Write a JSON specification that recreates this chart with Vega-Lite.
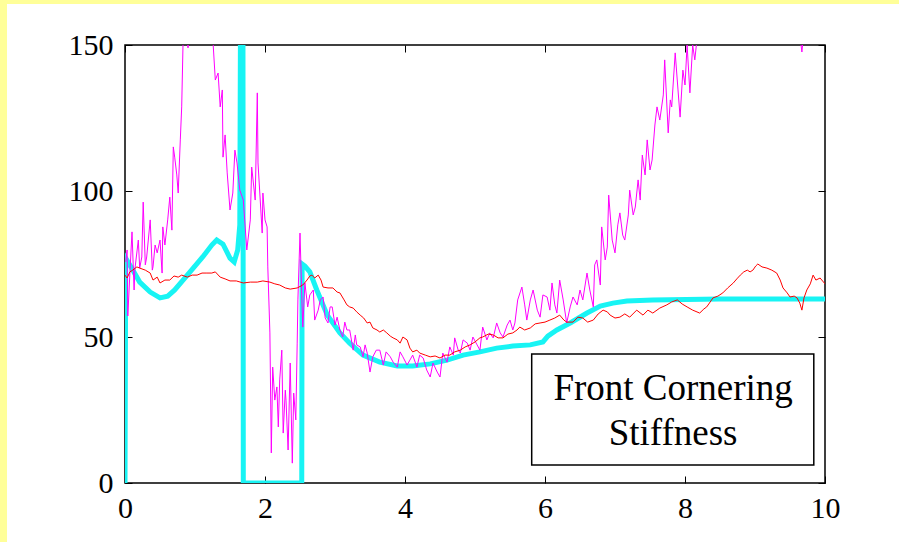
{
  "$schema": "https://vega.github.io/schema/vega-lite/v6.json",
  "padding": 0,
  "background": "white",
  "config": {"view": {"stroke": null}, "font": "Liberation Serif"},
  "spacing": 0,
  "bounds": "flush",
  "hconcat": [
    {"width": 7, "height": 542, "view": {"fill": "#FFFF99", "stroke": null}, "data": {"values": []}, "mark": "rect", "encoding": {}},
    {
      "spacing": 41,
      "bounds": "flush",
      "vconcat": [
        {"width": 892, "height": 4, "view": {"fill": "#FFFF99", "stroke": null}, "data": {"values": []}, "mark": "rect", "encoding": {}},
        {
          "spacing": 117,
          "bounds": "flush",
          "hconcat": [
            {"width": 1, "height": 1, "view": {"stroke": null}, "data": {"values": []}, "mark": "rect", "encoding": {}},
            {
              "width": 700,
              "height": 438,
              "view": {"stroke": "black", "strokeWidth": 1.5},
              "resolve": {"axis": {"x": "independent", "y": "independent"}},
              "layer": [
                {
                  "data": {"values": [
                    {"t":0,"v":0},{"t":0.01,"v":77},{"t":0.11,"v":73},{"t":0.21,"v":68.8},{"t":0.36,"v":65.4},{"t":0.5,"v":63.4},{"t":0.61,"v":64},{"t":0.71,"v":66.1},{"t":0.89,"v":71.2},{"t":1.11,"v":77.4},{"t":1.24,"v":81.5},{"t":1.31,"v":83.2},{"t":1.4,"v":81.8},{"t":1.5,"v":77},{"t":1.56,"v":75.7},{"t":1.61,"v":79.8},{"t":1.64,"v":88.4},{"t":1.65,"v":160},{"t":1.685,"v":160},{"t":1.69,"v":0},{"t":2.525,"v":0},{"t":2.53,"v":75},{"t":2.57,"v":74.3},{"t":2.64,"v":72.3},{"t":2.74,"v":66.1},{"t":2.89,"v":57.5},{"t":3.07,"v":51.4},{"t":3.21,"v":47.9},{"t":3.4,"v":43.8},{"t":3.64,"v":41.4},{"t":3.89,"v":40.1},{"t":4.11,"v":40.1},{"t":4.36,"v":40.8},{"t":4.6,"v":42.1},{"t":4.83,"v":43.8},{"t":5.07,"v":44.9},{"t":5.31,"v":46.2},{"t":5.54,"v":46.9},{"t":5.79,"v":47.3},{"t":5.97,"v":48.3},{"t":6.04,"v":50.3},{"t":6.17,"v":52.4},{"t":6.36,"v":54.8},{"t":6.6,"v":58.2},{"t":6.79,"v":60.6},{"t":6.97,"v":61.6},{"t":7.17,"v":62.3},{"t":7.54,"v":62.7},{"t":8.5,"v":63},{"t":10,"v":63}
                  ]},
                  "mark": {"type": "line", "color": "#18F4F4", "strokeWidth": 5, "clip": true},
                  "encoding": {
                    "x": {"field": "t", "type": "quantitative", "scale": {"domain": [0, 10], "nice": false, "zero": false},
                      "axis": {"orient": "bottom", "values": [0, 2, 4, 6, 8, 10], "domain": false, "grid": false, "tickSize": -7, "tickColor": "black", "labelFont": "Liberation Serif", "labelFontSize": 30, "labelColor": "black", "labelPadding": 17, "labelFlush": false, "title": null, "format": "d"}},
                    "y": {"field": "v", "type": "quantitative", "scale": {"domain": [0, 150], "nice": false},
                      "axis": {"orient": "left", "values": [0, 50, 100, 150], "domain": false, "grid": false, "tickSize": -7, "tickColor": "black", "labelFont": "Liberation Serif", "labelFontSize": 30, "labelColor": "black", "labelPadding": 19, "title": null, "format": "d"}}
                  }
                },
                {
                  "data": {"values": [
                    {"t":0.01,"v":75.7},{"t":0.03,"v":79.8},{"t":0.04,"v":57.2},{"t":0.07,"v":71.9},{"t":0.1,"v":86},{"t":0.13,"v":66.1},{"t":0.14,"v":72.9},{"t":0.19,"v":83.2},{"t":0.21,"v":73.6},{"t":0.24,"v":77.4},{"t":0.26,"v":96.2},{"t":0.29,"v":74.7},{"t":0.31,"v":77.4},{"t":0.36,"v":90.1},{"t":0.39,"v":72.9},{"t":0.4,"v":74},{"t":0.43,"v":81.5},{"t":0.46,"v":78.8},{"t":0.5,"v":83.2},{"t":0.53,"v":71.9},{"t":0.54,"v":87.7},{"t":0.57,"v":81.5},{"t":0.61,"v":90.1},{"t":0.64,"v":97.9},{"t":0.67,"v":86.6},{"t":0.69,"v":115.1},{"t":0.71,"v":111.6},{"t":0.74,"v":105.5},{"t":0.76,"v":99.3},{"t":0.79,"v":117.5},{"t":0.81,"v":128.8},{"t":0.83,"v":151.7},{"t":0.87,"v":155},{"t":0.9,"v":149},{"t":0.93,"v":155},{"t":1,"v":158},{"t":1.07,"v":162},{"t":1.14,"v":157},{"t":1.21,"v":158},{"t":1.26,"v":150},{"t":1.29,"v":138},{"t":1.33,"v":140.4},{"t":1.36,"v":128.8},{"t":1.39,"v":134.6},{"t":1.4,"v":111.6},{"t":1.43,"v":119.2},{"t":1.46,"v":106.2},{"t":1.5,"v":93.5},{"t":1.54,"v":99.3},{"t":1.57,"v":114},{"t":1.6,"v":109.6},{"t":1.64,"v":100.3},{"t":1.69,"v":96.9},{"t":1.71,"v":90.1},{"t":1.74,"v":79.8},{"t":1.79,"v":90.1},{"t":1.81,"v":108.2},{"t":1.86,"v":96.9},{"t":1.89,"v":133.6},{"t":1.9,"v":109.6},{"t":1.96,"v":85.6},{"t":1.97,"v":99.3},{"t":2,"v":90.1},{"t":2.03,"v":87.7},{"t":2.04,"v":74},{"t":2.07,"v":51.4},{"t":2.09,"v":10.3},{"t":2.11,"v":39.7},{"t":2.14,"v":28.4},{"t":2.17,"v":32.9},{"t":2.19,"v":19.2},{"t":2.21,"v":35.3},{"t":2.24,"v":45.5},{"t":2.26,"v":17.1},{"t":2.29,"v":31.8},{"t":2.3,"v":28.4},{"t":2.33,"v":11.3},{"t":2.36,"v":41.1},{"t":2.39,"v":6.8},{"t":2.41,"v":30.8},{"t":2.44,"v":21.6},{"t":2.46,"v":47.9},{"t":2.47,"v":62.7},{"t":2.5,"v":85.6},{"t":2.53,"v":60.3},{"t":2.54,"v":53.4},{"t":2.57,"v":68.5},{"t":2.61,"v":60.3},{"t":2.64,"v":64.4},{"t":2.69,"v":66.1},{"t":2.71,"v":55.8},{"t":2.76,"v":59.2},{"t":2.79,"v":62.7},{"t":2.83,"v":63.7},{"t":2.86,"v":56.5},{"t":2.9,"v":54.8},{"t":2.93,"v":60.3},{"t":2.96,"v":60.3},{"t":3,"v":54.1},{"t":3.03,"v":56.8},{"t":3.07,"v":52.4},{"t":3.11,"v":50},{"t":3.14,"v":55.1},{"t":3.17,"v":52.4},{"t":3.21,"v":52.4},{"t":3.26,"v":45.5},{"t":3.29,"v":50.7},{"t":3.31,"v":47.3},{"t":3.36,"v":46.6},{"t":3.4,"v":43.2},{"t":3.43,"v":47.3},{"t":3.46,"v":44.5},{"t":3.5,"v":38},{"t":3.54,"v":43.2},{"t":3.59,"v":45.5},{"t":3.64,"v":45.5},{"t":3.69,"v":40.4},{"t":3.73,"v":44.9},{"t":3.79,"v":43.2},{"t":3.83,"v":41.4},{"t":3.89,"v":39.7},{"t":3.93,"v":44.9},{"t":3.97,"v":43.2},{"t":4.03,"v":40.4},{"t":4.07,"v":42.1},{"t":4.11,"v":43.8},{"t":4.17,"v":39.7},{"t":4.21,"v":43.8},{"t":4.26,"v":42.8},{"t":4.31,"v":38.7},{"t":4.36,"v":36.3},{"t":4.4,"v":41.1},{"t":4.46,"v":38},{"t":4.5,"v":36.3},{"t":4.54,"v":44.5},{"t":4.6,"v":41.4},{"t":4.64,"v":46.6},{"t":4.69,"v":43.8},{"t":4.71,"v":49.7},{"t":4.76,"v":45.5},{"t":4.79,"v":44.5},{"t":4.83,"v":49},{"t":4.89,"v":47.9},{"t":4.93,"v":45.5},{"t":4.97,"v":50},{"t":5.03,"v":47.3},{"t":5.07,"v":45.5},{"t":5.11,"v":53.4},{"t":5.17,"v":49},{"t":5.21,"v":51.4},{"t":5.26,"v":49.7},{"t":5.31,"v":54.8},{"t":5.36,"v":51.4},{"t":5.4,"v":50},{"t":5.46,"v":54.1},{"t":5.5,"v":55.8},{"t":5.54,"v":52.4},{"t":5.57,"v":54.8},{"t":5.61,"v":62.7},{"t":5.67,"v":67.1},{"t":5.71,"v":61},{"t":5.74,"v":55.8},{"t":5.79,"v":62.7},{"t":5.83,"v":66.1},{"t":5.89,"v":59.2},{"t":5.93,"v":56.8},{"t":5.97,"v":64.4},{"t":6.03,"v":63.7},{"t":6.07,"v":59.2},{"t":6.1,"v":68.5},{"t":6.14,"v":61},{"t":6.17,"v":58.2},{"t":6.21,"v":69.5},{"t":6.26,"v":62.7},{"t":6.31,"v":54.8},{"t":6.36,"v":60.3},{"t":6.4,"v":63.7},{"t":6.46,"v":61},{"t":6.5,"v":66.1},{"t":6.54,"v":62.7},{"t":6.6,"v":71.9},{"t":6.64,"v":66.1},{"t":6.69,"v":60.3},{"t":6.71,"v":74.7},{"t":6.74,"v":76.4},{"t":6.79,"v":67.8},{"t":6.81,"v":87.7},{"t":6.86,"v":76.4},{"t":6.89,"v":80.8},{"t":6.91,"v":98.6},{"t":6.96,"v":83.2},{"t":7,"v":78.8},{"t":7.04,"v":88.4},{"t":7.07,"v":92.5},{"t":7.11,"v":84.9},{"t":7.14,"v":83.2},{"t":7.19,"v":91.8},{"t":7.21,"v":100.3},{"t":7.26,"v":91.8},{"t":7.29,"v":94.5},{"t":7.33,"v":103.8},{"t":7.36,"v":96.9},{"t":7.39,"v":112.3},{"t":7.43,"v":105.5},{"t":7.46,"v":117.5},{"t":7.5,"v":107.2},{"t":7.53,"v":110.6},{"t":7.57,"v":122.6},{"t":7.6,"v":128.8},{"t":7.64,"v":124.3},{"t":7.69,"v":132.9},{"t":7.71,"v":144.9},{"t":7.76,"v":119.9},{"t":7.79,"v":131.2},{"t":7.81,"v":128.8},{"t":7.86,"v":147.3},{"t":7.9,"v":134.6},{"t":7.93,"v":125.3},{"t":7.97,"v":141.4},{"t":8,"v":136.3},{"t":8.03,"v":150},{"t":8.07,"v":133.6},{"t":8.11,"v":150},{"t":8.14,"v":144.9},{"t":8.17,"v":151.7},{"t":8.21,"v":153.4},{"t":8.36,"v":160},{"t":8.64,"v":163.7},{"t":9.07,"v":165},{"t":9.5,"v":162},{"t":9.64,"v":153.4},{"t":9.67,"v":147.6},{"t":9.7,"v":155},{"t":9.86,"v":162},{"t":10,"v":165}
                  ]},
                  "mark": {"type": "line", "color": "#FF00FF", "strokeWidth": 1, "clip": true},
                  "encoding": {
                    "x": {"field": "t", "type": "quantitative", "scale": {"domain": [0, 10], "nice": false, "zero": false}, "axis": null},
                    "y": {"field": "v", "type": "quantitative", "scale": {"domain": [0, 150], "nice": false}, "axis": null}
                  }
                },
                {
                  "data": {"values": [
                    {"t":0,"v":71.2},{"t":0.03,"v":70.2},{"t":0.07,"v":72.3},{"t":0.11,"v":72.9},{"t":0.17,"v":74},{"t":0.21,"v":73.6},{"t":0.29,"v":72.9},{"t":0.36,"v":71.9},{"t":0.4,"v":69.5},{"t":0.46,"v":70.5},{"t":0.5,"v":68.5},{"t":0.57,"v":69.5},{"t":0.64,"v":69.5},{"t":0.7,"v":70.9},{"t":0.76,"v":70.5},{"t":0.81,"v":71.2},{"t":0.89,"v":70.5},{"t":0.96,"v":71.2},{"t":1.03,"v":71.2},{"t":1.1,"v":71.9},{"t":1.17,"v":71.9},{"t":1.24,"v":71.9},{"t":1.29,"v":72.3},{"t":1.36,"v":70.5},{"t":1.43,"v":69.9},{"t":1.5,"v":69.2},{"t":1.59,"v":69.2},{"t":1.69,"v":68.5},{"t":1.79,"v":68.8},{"t":1.89,"v":68.8},{"t":1.97,"v":69.2},{"t":2.07,"v":68.8},{"t":2.14,"v":68.2},{"t":2.21,"v":67.8},{"t":2.29,"v":66.8},{"t":2.36,"v":66.4},{"t":2.46,"v":66.8},{"t":2.54,"v":67.8},{"t":2.6,"v":69.5},{"t":2.64,"v":70.9},{"t":2.67,"v":71.2},{"t":2.71,"v":70.2},{"t":2.76,"v":71.2},{"t":2.8,"v":69.5},{"t":2.83,"v":67.1},{"t":2.9,"v":66.8},{"t":2.97,"v":66.8},{"t":3.03,"v":65.4},{"t":3.07,"v":65.1},{"t":3.13,"v":62.7},{"t":3.17,"v":61},{"t":3.21,"v":60.3},{"t":3.26,"v":59.9},{"t":3.31,"v":58.6},{"t":3.36,"v":57.5},{"t":3.41,"v":56.5},{"t":3.46,"v":54.8},{"t":3.5,"v":55.1},{"t":3.54,"v":53.1},{"t":3.6,"v":52.4},{"t":3.64,"v":51.7},{"t":3.69,"v":52.4},{"t":3.74,"v":51.4},{"t":3.79,"v":50.3},{"t":3.83,"v":49.7},{"t":3.89,"v":49},{"t":3.93,"v":47.9},{"t":3.97,"v":50},{"t":4.03,"v":49},{"t":4.07,"v":46.2},{"t":4.11,"v":44.9},{"t":4.17,"v":45.5},{"t":4.21,"v":44.5},{"t":4.29,"v":43.8},{"t":4.36,"v":43.2},{"t":4.43,"v":43.5},{"t":4.5,"v":42.8},{"t":4.57,"v":43.8},{"t":4.64,"v":43.8},{"t":4.71,"v":44.9},{"t":4.79,"v":45.5},{"t":4.86,"v":46.6},{"t":4.93,"v":47.3},{"t":5,"v":48.3},{"t":5.07,"v":49.7},{"t":5.11,"v":50},{"t":5.19,"v":51},{"t":5.26,"v":50.7},{"t":5.33,"v":49.7},{"t":5.4,"v":49.7},{"t":5.47,"v":51},{"t":5.54,"v":51.4},{"t":5.6,"v":52.4},{"t":5.64,"v":53.4},{"t":5.71,"v":52.4},{"t":5.79,"v":53.1},{"t":5.86,"v":54.5},{"t":5.93,"v":54.8},{"t":6,"v":55.1},{"t":6.07,"v":55.8},{"t":6.14,"v":56.5},{"t":6.21,"v":57.5},{"t":6.27,"v":55.8},{"t":6.31,"v":55.1},{"t":6.4,"v":55.1},{"t":6.47,"v":56.8},{"t":6.54,"v":56.5},{"t":6.61,"v":55.1},{"t":6.69,"v":55.8},{"t":6.76,"v":57.9},{"t":6.83,"v":59.2},{"t":6.89,"v":58.6},{"t":6.93,"v":57.5},{"t":7,"v":56.5},{"t":7.07,"v":56.8},{"t":7.14,"v":57.9},{"t":7.21,"v":56.8},{"t":7.31,"v":59.2},{"t":7.4,"v":57.5},{"t":7.47,"v":59.2},{"t":7.54,"v":58.2},{"t":7.64,"v":59.9},{"t":7.74,"v":61},{"t":7.81,"v":62},{"t":7.89,"v":62.7},{"t":7.96,"v":61.3},{"t":8.03,"v":60.3},{"t":8.11,"v":59.2},{"t":8.21,"v":58.2},{"t":8.27,"v":59.6},{"t":8.31,"v":60.3},{"t":8.36,"v":62},{"t":8.4,"v":63.4},{"t":8.47,"v":64},{"t":8.54,"v":65.1},{"t":8.61,"v":66.8},{"t":8.69,"v":68.5},{"t":8.74,"v":69.9},{"t":8.79,"v":71.2},{"t":8.84,"v":72.3},{"t":8.89,"v":72.9},{"t":8.93,"v":72.3},{"t":8.97,"v":72.9},{"t":9.01,"v":74.3},{"t":9.04,"v":75},{"t":9.1,"v":74},{"t":9.17,"v":73.6},{"t":9.24,"v":72.9},{"t":9.31,"v":71.9},{"t":9.36,"v":69.5},{"t":9.4,"v":66.8},{"t":9.46,"v":65.1},{"t":9.5,"v":63.7},{"t":9.56,"v":64},{"t":9.6,"v":63.4},{"t":9.64,"v":61.6},{"t":9.67,"v":59.2},{"t":9.7,"v":63.4},{"t":9.74,"v":66.1},{"t":9.79,"v":68.2},{"t":9.83,"v":71.2},{"t":9.87,"v":69.5},{"t":9.93,"v":70.2},{"t":10,"v":68.2}
                  ]},
                  "mark": {"type": "line", "color": "#FF0000", "strokeWidth": 1, "clip": true},
                  "encoding": {
                    "x": {"field": "t", "type": "quantitative", "scale": {"domain": [0, 10], "nice": false, "zero": false}, "axis": null},
                    "y": {"field": "v", "type": "quantitative", "scale": {"domain": [0, 150], "nice": false}, "axis": null}
                  }
                },
                {
                  "data": {"values": [{"x1": 5.81, "x2": 9.84, "y1": 6.2, "y2": 44.2}]},
                  "mark": {"type": "rect", "fill": "white", "stroke": "black", "strokeWidth": 1.5},
                  "encoding": {
                    "x": {"field": "x1", "type": "quantitative", "scale": {"domain": [0, 10], "nice": false, "zero": false},
                      "axis": {"orient": "top", "values": [0, 2, 4, 6, 8, 10], "labels": false, "domain": false, "grid": false, "tickSize": -7, "tickColor": "black", "title": null}},
                    "x2": {"field": "x2"},
                    "y": {"field": "y1", "type": "quantitative", "scale": {"domain": [0, 150], "nice": false},
                      "axis": {"orient": "right", "values": [0, 50, 100, 150], "labels": false, "domain": false, "grid": false, "tickSize": -7, "tickColor": "black", "title": null}},
                    "y2": {"field": "y2"}
                  }
                },
                {
                  "data": {"values": [{"x": 7.83, "y": 28.4, "label": "Front Cornering\nStiffness"}]},
                  "mark": {"type": "text", "font": "Liberation Serif", "fontSize": 37, "color": "black", "align": "center", "baseline": "alphabetic", "lineBreak": "\n", "lineHeight": 45},
                  "encoding": {
                    "x": {"field": "x", "type": "quantitative", "scale": {"domain": [0, 10], "nice": false, "zero": false}, "axis": null},
                    "y": {"field": "y", "type": "quantitative", "scale": {"domain": [0, 150], "nice": false}, "axis": null},
                    "text": {"field": "label"}
                  }
                }
              ]
            }
          ]
        }
      ]
    }
  ]
}
